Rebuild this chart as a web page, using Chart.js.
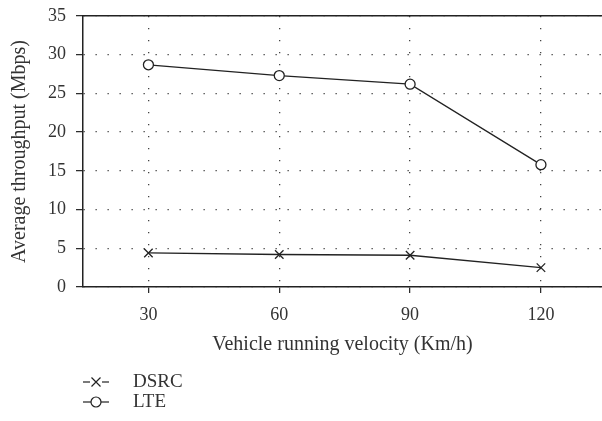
<!DOCTYPE html>
<html>
<head>
<meta charset="utf-8">
<script src="https://cdn.jsdelivr.net/npm/chart.js@4.4.1/dist/chart.umd.min.js"></script>
<style>
  html, body { margin: 0; padding: 0; background: #fff; }
  #wrap { width: 602px; height: 421px; }
</style>
</head>
<body>
<div id="wrap"><canvas id="lineChart"></canvas></div>
<script>
const velocity = [30, 60, 90, 120];
const dsrc = [4.4, 4.2, 4.1, 2.5];
const lte = [28.7, 27.3, 26.2, 15.8];
const xTicks = [30, 60, 90, 120];

const ink = '#222';
const serif = "'Liberation Serif', 'DejaVu Serif', serif";

const toPoints = (ys) => ys.map((y, i) => ({ x: velocity[i], y: y }));

// legend below the axis title: short line with the marker in the middle
const bottomLegend = {
    id: 'bottomLegend',
    afterDraw(chart) {
        const c = chart.ctx;
        const left = chart.chartArea.left;
        const rows = [
            { label: 'DSRC', y: 382 },
            { label: 'LTE', y: 402 }
        ];
        c.save();
        chart.data.datasets.forEach((ds, i) => {
            const y = rows[i].y;
            c.strokeStyle = ink;
            c.lineWidth = 1.2;
            c.beginPath();
            c.moveTo(left, y);
            c.lineTo(left + 26, y);
            c.stroke();
            const mx = left + 13;
            if (ds.pointStyle === 'circle') {
                c.fillStyle = '#fff';
                c.beginPath();
                c.arc(mx, y, 5, 0, Math.PI * 2);
                c.fill();
                c.stroke();
            } else {
                c.fillStyle = '#fff';
                c.fillRect(mx - 6, y - 5, 12, 10);
                c.beginPath();
                c.moveTo(mx - 4.5, y - 4.5); c.lineTo(mx + 4.5, y + 4.5);
                c.moveTo(mx + 4.5, y - 4.5); c.lineTo(mx - 4.5, y + 4.5);
                c.stroke();
            }
            c.fillStyle = '#333';
            c.font = '19px ' + serif;
            c.textBaseline = 'middle';
            c.fillText(rows[i].label, left + 50, y);
        });
        c.restore();
    }
};

new Chart(document.getElementById('lineChart'), {
    type: 'line',
    data: {
        datasets: [{
            label: 'DSRC',
            data: toPoints(dsrc),
            borderColor: ink,
            borderWidth: 1.3,
            pointStyle: 'crossRot',
            pointRadius: 6,
            pointBorderWidth: 1.3,
            pointBorderColor: ink,
            pointBackgroundColor: '#fff',
            tension: 0
        }, {
            label: 'LTE',
            data: toPoints(lte),
            borderColor: ink,
            borderWidth: 1.3,
            pointStyle: 'circle',
            pointRadius: 5,
            pointBorderWidth: 1.3,
            pointBorderColor: ink,
            pointBackgroundColor: '#fff',
            tension: 0
        }]
    },
    options: {
        responsive: true,
        maintainAspectRatio: false,
        animation: false,
        layout: { autoPadding: false, padding: { top: 16, right: 0, bottom: 0, left: 0 } },
        plugins: {
            legend: { display: false },
            tooltip: { enabled: false }
        },
        scales: {
            x: {
                type: 'linear',
                position: 'bottom',
                min: 15,
                max: 134,
                afterBuildTicks: (s) => { s.ticks = xTicks.map(v => ({ value: v })); },
                afterFit: (s) => { s.height = 134; s.paddingLeft = 0; s.paddingRight = 0; },
                grid: {
                    color: '#444',
                    lineWidth: 1.3,
                    tickLength: 6,
                    tickColor: ink,
                    tickWidth: 1.2,
                    tickBorderDash: []
                },
                border: { display: true, color: ink, width: 1.5, dash: [1.3, 10.7] },
                ticks: {
                    color: '#333',
                    font: { family: serif, size: 18 },
                    padding: 11,
                    maxRotation: 0
                },
                title: {
                    display: true,
                    text: 'Vehicle running velocity (Km/h)',
                    color: '#333',
                    font: { family: serif, size: 20 },
                    padding: { top: 0, bottom: 64 }
                }
            },
            xTop: {
                type: 'linear',
                position: 'top',
                min: 15,
                max: 134,
                afterFit: (s) => { s.height = 0; s.paddingLeft = 0; s.paddingRight = 0; },
                ticks: { display: false },
                grid: { drawOnChartArea: false, drawTicks: false },
                border: { display: true, color: ink, width: 1.5 }
            },
            y: {
                min: 0,
                max: 35,
                afterFit: (s) => { s.width = 83; s.paddingTop = 0; s.paddingBottom = 0; },
                grid: {
                    color: '#444',
                    lineWidth: 1.3,
                    tickLength: 7,
                    tickColor: ink,
                    tickWidth: 1.2,
                    tickBorderDash: []
                },
                border: { display: true, color: ink, width: 1.5, dash: [1.3, 10.7] },
                ticks: {
                    stepSize: 5,
                    color: '#333',
                    font: { family: serif, size: 18 },
                    padding: 10
                },
                title: {
                    display: true,
                    text: 'Average throughput (Mbps)',
                    color: '#333',
                    font: { family: serif, size: 20 },
                    padding: { top: 8, bottom: 0 }
                }
            }
        }
    },
    plugins: [bottomLegend]
});
</script>
</body>
</html>
